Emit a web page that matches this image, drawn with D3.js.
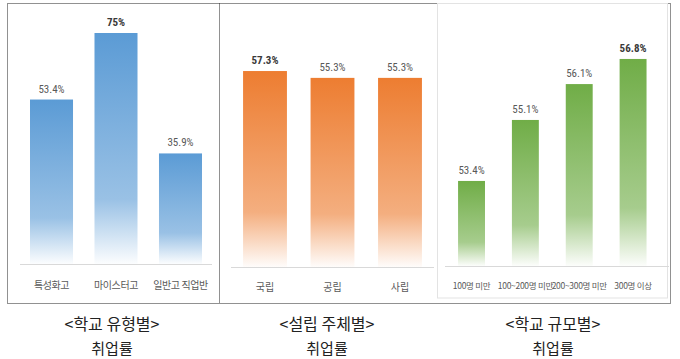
<!DOCTYPE html>
<html><head><meta charset="utf-8">
<script src="https://cdn.jsdelivr.net/npm/d3@7"></script>
<style>
html,body{margin:0;padding:0;background:#fff;}
svg{display:block;}
</style></head>
<body>
<svg id="chart" width="680" height="359"></svg>
<script>
// ---- data ----
const typeCategories = ["특성화고", "마이스터고", "일반고 직업반"];
const typeValues = [53.4, 75, 35.9];
const typeLabels = ["53.4%", "75%", "35.9%"];

const founderCategories = ["국립", "공립", "사립"];
const founderValues = [57.3, 55.3, 55.3];
const founderLabels = ["57.3%", "55.3%", "55.3%"];

const sizeCategories = ["100명 미만", "100~200명 미만", "200~300명 미만", "300명 이상"];
const sizeValues = [53.4, 55.1, 56.1, 56.8];
const sizeLabels = ["53.4%", "55.1%", "56.1%", "56.8%"];

const panelTitles = ["<학교 유형별>", "<설립 주체별>", "<학교 규모별>"];
const panelSubtitle = "취업률";

// ---- drawing ----
const svg = d3.select("#chart");
const defs = svg.append("defs");

function makeGrad(id, color) {
  const g = defs.append("linearGradient").attr("id", id)
    .attr("x1", 0).attr("y1", 0).attr("x2", 0).attr("y2", 1);
  g.append("stop").attr("offset", "0%").attr("stop-color", color).attr("stop-opacity", 1);
  g.append("stop").attr("offset", "72%").attr("stop-color", color).attr("stop-opacity", 0.62);
  g.append("stop").attr("offset", "100%").attr("stop-color", color).attr("stop-opacity", 0.02);
}
makeGrad("gBlue", "#5b9bd5");
makeGrad("gOrange", "#ed7d31");
makeGrad("gGreen", "#70ad47");

// frames
svg.append("rect").attr("x", 7.5).attr("y", 3.5).attr("width", 663).attr("height", 300)
  .attr("fill", "none").attr("stroke", "#222").attr("stroke-width", 1).attr("stroke-dasharray", "1,1");
svg.append("line").attr("x1", 219.5).attr("x2", 219.5).attr("y1", 3.5).attr("y2", 303.5)
  .attr("stroke", "#222").attr("stroke-dasharray", "1,1");
svg.append("rect").attr("x", 437.5).attr("y", 3.5).attr("width", 230).attr("height", 294.5)
  .attr("fill", "none").attr("stroke", "#e3e3e3");

function panel(cfg) {
  const x = d3.scaleBand().domain(cfg.cats).range(cfg.xr)
    .paddingInner(cfg.pi).paddingOuter(cfg.po);
  const y = d3.scaleLinear().domain(cfg.yd).range(cfg.yr);
  const g = svg.append("g");
  g.append("line").attr("x1", cfg.axis[0]).attr("x2", cfg.axis[1])
    .attr("y1", cfg.yr[0] + 0.5).attr("y2", cfg.yr[0] + 0.5)
    .attr("stroke", "#d9d9d9").attr("stroke-width", 1);
  g.selectAll("rect.bar").data(cfg.vals).join("rect").attr("class", "bar")
    .attr("x", (d, i) => x(cfg.cats[i]))
    .attr("width", x.bandwidth())
    .attr("y", d => y(d))
    .attr("height", d => cfg.yr[0] - y(d))
    .attr("fill", `url(#${cfg.grad})`);
  g.selectAll("text.val").data(cfg.vals).join("text").attr("class", "val")
    .attr("x", (d, i) => x(cfg.cats[i]) + x.bandwidth() / 2)
    .attr("y", d => y(d) - 7)
    .attr("text-anchor", "middle")
    .attr("font-family", "'Liberation Sans Narrow', 'Roboto Condensed', 'Liberation Sans', sans-serif")
    .attr("font-size", 11)
    .attr("font-weight", (d, i) => i === cfg.boldIdx ? "bold" : "normal")
    .attr("fill", (d, i) => i === cfg.boldIdx ? "#3a3a3a" : "#595959")
    .text((d, i) => cfg.labels[i]);
  g.selectAll("text.cat").data(cfg.cats).join("text").attr("class", "cat")
    .attr("x", d => x(d) + x.bandwidth() / 2)
    .attr("y", cfg.catY)
    .attr("text-anchor", "middle")
    .attr("font-family", "'Liberation Sans Narrow', 'Noto Sans CJK KR', sans-serif")
    .attr("font-size", cfg.catSize)
    .attr("letter-spacing", cfg.ls)
    .attr("fill", "#595959")
    .text(d => d);
}

panel({cats: typeCategories, vals: typeValues, labels: typeLabels, boldIdx: 1,
  xr: [19.25, 212.75], pi: 0.333, po: 0.1667, yd: [0, 80], yr: [264, 17.6],
  axis: [20, 212], grad: "gBlue", catY: 289, catSize: 10, ls: -0.4});
panel({cats: founderCategories, vals: founderValues, labels: founderLabels, boldIdx: 0,
  xr: [231.25, 433.75], pi: 0.35, po: 0.175, yd: [0, 70], yr: [267, 27.6],
  axis: [231, 434], grad: "gOrange", catY: 291, catSize: 10, ls: 0});
panel({cats: sizeCategories, vals: sizeValues, labels: sizeLabels, boldIdx: 3,
  xr: [444.6, 660], pi: 0.5, po: 0.25, yd: [51.03, 58], yr: [266, 15.9],
  axis: [445, 669], grad: "gGreen", catY: 289, catSize: 8.5, ls: -0.3});

// titles
const titleX = [112, 327, 553];
svg.selectAll("text.title").data(panelTitles).join("text").attr("class", "title")
  .attr("x", (d, i) => titleX[i]).attr("y", 330)
  .attr("text-anchor", "middle")
  .attr("font-family", "'Noto Sans CJK KR', sans-serif")
  .attr("font-size", 16).attr("fill", "#222")
  .text(d => d);
svg.selectAll("text.sub").data(panelTitles).join("text").attr("class", "sub")
  .attr("x", (d, i) => titleX[i]).attr("y", 354)
  .attr("text-anchor", "middle")
  .attr("font-family", "'Noto Sans CJK KR', sans-serif")
  .attr("font-size", 15).attr("fill", "#222")
  .text(panelSubtitle);
</script>
</body></html>
